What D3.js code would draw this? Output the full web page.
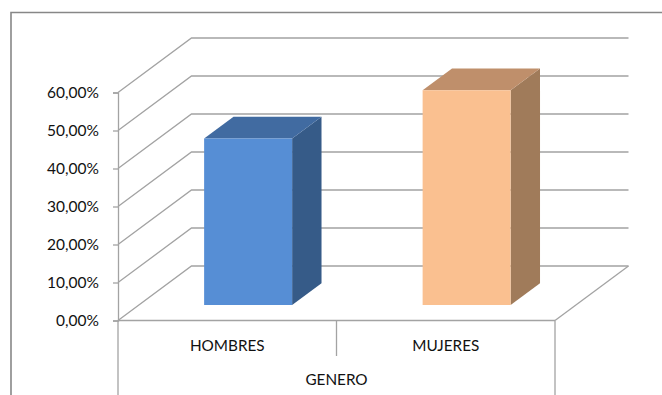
<!DOCTYPE html>
<html><head><meta charset="utf-8">
<script src="https://cdn.jsdelivr.net/npm/d3@7/dist/d3.min.js"></script>
<style>html,body{margin:0;padding:0;background:#fff;}svg{display:block;}</style>
</head><body>
<svg id="c" width="662" height="395"></svg>
<script>
const categories = ["HOMBRES", "MUJERES"];
const values = [0.438, 0.565];
const tickValues = [0, 0.1, 0.2, 0.3, 0.4, 0.5, 0.6];
const axisTitle = "GENERO";
const frontColors = ["#568ED5", "#FAC090"];
const topColors = ["#416BA1", "#BF8F6B"];
const sideColors = ["#365B88", "#A07B5A"];

const svg = d3.select("#c");
const font = "Lato, 'Liberation Sans', sans-serif";
const gridColor = "#a3a3a3";

// frame
svg.append("path").attr("d", "M11,395 V12.5 H662")
  .attr("fill", "none").attr("stroke", "#878787").attr("stroke-width", 1.6);

const x0 = 118, x1 = 555;
const y = d3.scaleLinear().domain([0, 0.6]).range([320.5, 92.5]);
const x = d3.scaleBand().domain(categories).range([x0, x1]).paddingInner(0).paddingOuter(0);
const DX = 73.5, DY = -54.5;
const depth = d3.scaleLinear().domain([0, 1]).range([0, 1]);
const P = (px, py, f) => [px + depth(f) * DX, py + depth(f) * DY];

const g = svg.append("g");
tickValues.forEach(t => {
  const a = P(x0, y(t), 0), b = P(x0, y(t), 1), c = P(x1, y(t), 1);
  g.append("path").attr("d", d3.line()([a, b, c]))
    .attr("fill", "none").attr("stroke", gridColor).attr("stroke-width", 1.3);
});
{
  const a = [x1, y(0)], b = P(x1, y(0), 1);
  g.append("path").attr("d", d3.line()([a, b])).attr("fill", "none")
    .attr("stroke", gridColor).attr("stroke-width", 1.3);
}

// bars
const f0 = 0.284, f1 = 0.684;
const bw = 88;
categories.forEach((cat, i) => {
  const cx = x(cat) + x.bandwidth() / 2;
  const L = cx - bw / 2, R = cx + bw / 2;
  const yb = y(0), yt = y(values[i]);
  const fl = P(L, yt, f0), fr = P(R, yt, f0), frb = P(R, yb, f0), flb = P(L, yb, f0);
  const bl = P(L, yt, f1), br = P(R, yt, f1), brb = P(R, yb, f1);
  const bg = svg.append("g");
  bg.append("path").attr("d", d3.line()([fr, br, brb, frb]) + "Z").attr("fill", sideColors[i]);
  bg.append("path").attr("d", d3.line()([fl, bl, br, fr]) + "Z").attr("fill", topColors[i]);
  bg.append("path").attr("d", d3.line()([fl, fr, frb, flb]) + "Z").attr("fill", frontColors[i]);
});

const axG = svg.append("g");
axG.append("line").attr("x1", x0).attr("x2", x1).attr("y1", y(0)).attr("y2", y(0))
  .attr("stroke", gridColor).attr("stroke-width", 1.3);
axG.append("line").attr("x1", x1).attr("x2", x1).attr("y1", y(0)).attr("y2", 395)
  .attr("stroke", gridColor).attr("stroke-width", 1.3);
axG.append("line").attr("x1", x0 + x.bandwidth()).attr("x2", x0 + x.bandwidth())
  .attr("y1", y(0)).attr("y2", 356).attr("stroke", gridColor).attr("stroke-width", 1.3);
axG.append("line").attr("x1", x0).attr("x2", x0).attr("y1", y(0)).attr("y2", 395)
  .attr("stroke", gridColor).attr("stroke-width", 1.3);

categories.forEach(cat => {
  svg.append("text").attr("x", x(cat) + x.bandwidth() / 2).attr("y", 350.5)
    .attr("text-anchor", "middle").attr("font-family", font).attr("font-size", 15.3)
    .attr("fill", "#111").text(cat);
});
svg.append("text").attr("x", x0 + x.bandwidth()).attr("y", 385)
  .attr("text-anchor", "middle").attr("font-family", font).attr("font-size", 15.3)
  .attr("fill", "#111").text(axisTitle);

const loc = d3.formatLocale({decimal: ",", thousands: ".", grouping: [3], currency: ["", ""]});
const fmt = loc.format(".2%");
const yAxis = d3.axisLeft(y).tickValues(tickValues).tickSize(5).tickPadding(14).tickFormat(fmt);
const ya = svg.append("g").attr("transform", `translate(${x0},0)`).call(yAxis);
ya.select(".domain").attr("stroke", gridColor).attr("stroke-width", 1.3);
ya.selectAll(".tick line").attr("stroke", gridColor).attr("stroke-width", 1.3);
ya.selectAll(".tick text").attr("font-family", font).attr("font-size", 15.5).attr("fill", "#111");
</script>
</body></html>
